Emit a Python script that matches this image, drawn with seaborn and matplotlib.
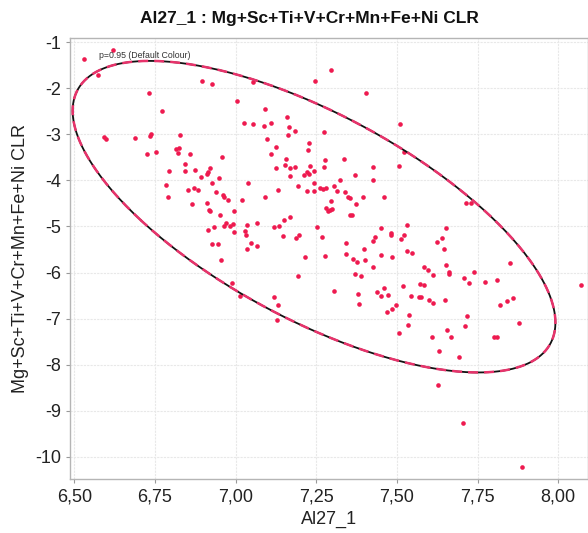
import numpy as np
import pandas as pd
import matplotlib
matplotlib.use("Agg")
import matplotlib.pyplot as plt
from matplotlib.ticker import FuncFormatter, FixedLocator
import seaborn as sns

# ---- data (Al27_1 vs CLR) ----
al27 = [
    6.531, 6.621, 6.573, 6.897, 6.928, 6.732, 7.005, 6.772, 6.593, 6.599,
    6.689, 6.737, 6.735, 6.827, 6.724, 6.752, 6.816, 6.825, 6.821, 6.858,
    6.957, 6.844, 6.794, 6.843, 6.875, 6.892, 6.910, 6.914, 6.922, 6.948,
    6.928, 6.783, 6.852, 6.870, 6.883, 6.790, 6.939, 6.961, 6.963, 6.976,
    6.865, 6.910, 6.918, 6.922, 6.996, 6.953, 6.971, 6.963, 6.983, 6.993,
    6.934, 6.914, 6.996, 6.928, 6.945,
    7.297, 7.247, 7.055, 7.404, 7.091, 7.025, 7.053, 7.087, 7.111, 7.159,
    7.166, 7.185, 7.162, 7.273, 7.509, 7.523, 7.506, 7.097, 7.124, 7.227,
    7.223, 7.110, 7.155, 7.153, 7.126, 7.169, 7.184, 7.168, 7.230, 7.220,
    7.228, 7.243, 7.212, 7.277, 7.273, 7.335, 7.369, 7.425, 7.427, 7.038,
    7.242, 7.193, 7.221, 7.243, 7.263, 7.270, 7.280, 7.304, 7.323, 7.314,
    7.338, 7.348, 7.355, 7.394, 7.461, 7.297, 7.373, 7.020, 7.091, 7.131,
    7.279, 7.286, 7.293, 7.300, 7.355, 7.362, 7.170, 7.150, 7.065, 7.034,
    7.028, 7.031, 7.119, 7.134, 7.253, 7.146, 7.197, 7.187, 7.267, 7.034,
    7.048, 7.066, 7.342, 7.398, 7.451, 7.433, 7.425, 7.481, 7.483, 7.531,
    7.523, 7.513,
    7.714, 7.730, 7.652, 7.639, 7.623, 7.647,
    6.955, 6.990,
    7.216, 7.193, 7.277, 7.341, 7.365, 7.376, 7.400, 7.449, 7.484, 7.531,
    7.547, 7.370, 7.388, 7.425, 7.304, 7.380, 7.383, 7.439, 7.452, 7.459,
    7.472, 7.519, 7.543, 7.568, 7.574, 7.468, 7.486, 7.497, 7.538, 7.533,
    7.507, 7.119, 7.131, 7.128, 7.014,
    7.584, 7.595, 7.613, 7.652, 7.662, 7.662, 7.738, 7.707, 7.723, 7.572,
    7.583, 7.773, 7.809, 7.850, 8.069, 7.600, 7.611, 7.650, 7.819, 7.842,
    7.859, 7.716, 7.710, 7.654, 7.668, 7.609, 7.800, 7.809, 7.878, 7.631,
    7.692, 7.626, 7.705, 7.886,
]
clr = [
    -1.36, -1.17, -1.72, -1.84, -1.90, -2.10, -2.27, -2.50, -3.06, -3.11,
    -3.08, -3.00, -3.03, -3.01, -3.43, -3.39, -3.32, -3.29, -3.40, -3.42,
    -3.50, -3.64, -3.80, -3.79, -3.77, -3.93, -3.87, -3.82, -3.73, -3.95,
    -4.05, -4.10, -4.21, -4.16, -4.21, -4.36, -4.25, -4.31, -4.35, -4.42,
    -4.51, -4.48, -4.64, -4.66, -4.66, -4.75, -4.92, -5.00, -4.98, -4.94,
    -5.02, -5.08, -5.12, -5.38, -5.37,
    -1.60, -1.85, -1.86, -2.10, -2.45, -2.76, -2.78, -2.83, -2.75, -2.62,
    -2.85, -2.93, -3.02, -2.96, -2.77, -3.38, -3.69, -3.11, -3.27, -3.19,
    -3.34, -3.43, -3.53, -3.66, -3.73, -3.74, -3.71, -3.91, -3.68, -3.81,
    -3.85, -3.79, -3.89, -3.56, -3.71, -3.53, -3.88, -3.71, -4.00, -4.05,
    -4.05, -4.13, -4.22, -4.23, -4.17, -4.18, -4.16, -4.12, -4.00, -4.22,
    -4.26, -4.37, -4.39, -4.37, -4.37, -4.44, -4.52, -4.42, -4.37, -4.21,
    -4.60, -4.66, -4.65, -4.62, -4.75, -4.74, -4.79, -4.86, -4.92, -4.97,
    -5.10, -5.19, -5.02, -4.99, -5.01, -5.20, -5.19, -5.26, -5.23, -5.48,
    -5.36, -5.42, -5.36, -5.48, -5.03, -5.23, -5.31, -5.14, -5.18, -4.96,
    -5.19, -5.28,
    -4.49, -4.48, -5.04, -5.25, -5.33, -5.48,
    -5.72, -6.22,
    -5.66, -6.08, -5.64, -5.60, -5.71, -5.76, -5.72, -5.62, -5.66, -5.53,
    -5.57, -6.02, -6.07, -5.88, -6.39, -6.46, -6.68, -6.43, -6.50, -6.33,
    -6.48, -6.30, -6.50, -6.54, -6.52, -6.85, -6.79, -6.71, -6.92, -7.13,
    -7.32, -6.54, -6.71, -7.03, -6.51,
    -5.88, -5.94, -6.05, -5.83, -5.99, -6.03, -5.99, -6.12, -6.22, -6.24,
    -6.27, -6.21, -6.16, -5.79, -6.28, -6.59, -6.66, -6.59, -6.70, -6.62,
    -6.56, -6.94, -7.16, -7.24, -7.39, -7.39, -7.40, -7.39, -7.09, -7.71,
    -7.84, -8.44, -9.26, -10.21,
]
x_ticks = [6.50, 6.75, 7.00, 7.25, 7.50, 7.75, 8.00]
y_ticks = [-1, -2, -3, -4, -5, -6, -7, -8, -9, -10]
title = "Al27_1 : Mg+Sc+Ti+V+Cr+Mn+Fe+Ni CLR"
x_label = "Al27_1"
y_label = "Mg+Sc+Ti+V+Cr+Mn+Fe+Ni CLR"
ellipse_label = "p=0.95 (Default Colour)"
# 95% probability ellipse statistics
p_level = 0.95
ellipse_mean = [7.243, -4.787]
ellipse_sd = [0.3056, 1.381]
ellipse_corr = -0.68

df = pd.DataFrame({"Al27_1": al27, "CLR": clr})

sns.set_style("white")
plt.rcParams["font.family"] = ["Liberation Sans", "DejaVu Sans"]
plt.rcParams["axes.unicode_minus"] = False

fig = plt.figure(figsize=(5.88, 5.33), dpi=100)
ax = fig.add_axes([0.119, 0.1004, 0.881, 0.8274])

# grid
ax.set_axisbelow(True)
ax.grid(True, color="#e8e8e8", linewidth=0.8, linestyle=(0, (2, 1)))

# scatter
sns.scatterplot(data=df, x="Al27_1", y="CLR", ax=ax, color="#ee1a4f",
                s=11, linewidth=0, zorder=3, legend=False)

# probability ellipse (chi2, 2 dof) from the ellipse statistics
mu = np.array(ellipse_mean)
sx, sy = ellipse_sd
cov = np.array([[sx * sx, ellipse_corr * sx * sy],
                [ellipse_corr * sx * sy, sy * sy]])
k = np.sqrt(-2.0 * np.log(1.0 - p_level))
vals, vecs = np.linalg.eigh(cov)
t = np.linspace(0, 2 * np.pi, 400)
circ = np.vstack([np.cos(t), np.sin(t)])
ell = (vecs @ (np.sqrt(vals)[:, None] * circ)) * k + mu[:, None]
ax.plot(ell[0], ell[1], color="#111111", linewidth=1.3, zorder=4)
ax.plot(ell[0], ell[1], color="#e8336b", linewidth=1.8, zorder=5,
        dashes=(4, 2.4))

ax.text(0.056, 0.962, ellipse_label, transform=ax.transAxes, fontsize=6.3,
        color="#333333", va="center", ha="left", zorder=6)

ax.set_xlim(6.4867, 8.092)
ax.set_ylim(-10.49, -0.92)
ax.xaxis.set_major_locator(FixedLocator(x_ticks))
ax.yaxis.set_major_locator(FixedLocator(y_ticks))
ax.xaxis.set_major_formatter(FuncFormatter(lambda v, p: f"{v:.2f}".replace(".", ",")))
ax.yaxis.set_major_formatter(FuncFormatter(lambda v, p: f"{int(round(v))}"))
ax.tick_params(axis="both", labelsize=13, colors="#222222", length=3,
               width=0.8, direction="out", left=True, bottom=True)
ax.tick_params(axis="both", color="#999999")

for s in ["left", "bottom", "top", "right"]:
    ax.spines[s].set_color("#b5b5b5")
    ax.spines[s].set_linewidth(1.0)

ax.set_xlabel(x_label, fontsize=13, color="#222222", labelpad=4)
ax.set_ylabel(y_label, fontsize=13, color="#222222", labelpad=4)
fig.text(0.527, 0.966, title, fontsize=12.5, fontweight="bold",
         ha="center", va="center", color="#111111")

fig.savefig("out.png", dpi=100)
